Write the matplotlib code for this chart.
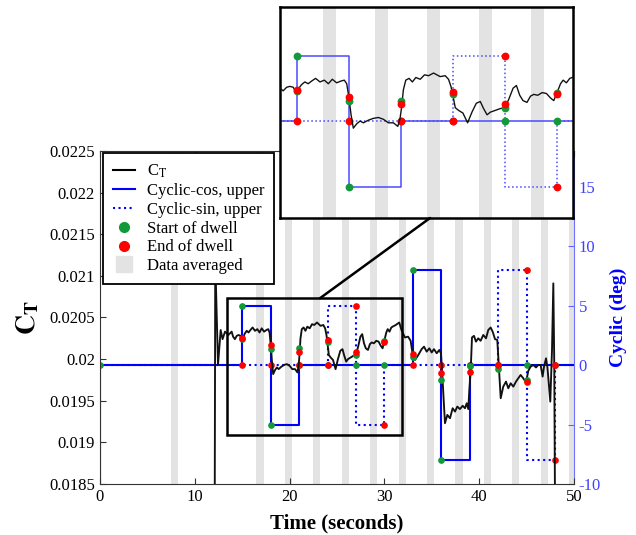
import numpy as np
import matplotlib
matplotlib.use('Agg')
import matplotlib.pyplot as plt
from matplotlib.lines import Line2D
from matplotlib.patches import Rectangle, ConnectionPatch

plt.rcParams['font.family'] = ['Liberation Serif', 'DejaVu Serif']
plt.rcParams['mathtext.fontset'] = 'stix'
plt.rcParams['axes.unicode_minus'] = False

# thrust coefficient record (s, C_T)
ct_time = [12.10, 12.16, 12.45, 12.73, 12.93, 13.19, 13.54, 13.89,
           14.04, 14.23, 14.43, 14.62, 14.81, 14.95, 15.10, 15.29, 15.48, 15.67,
           15.87, 16.10, 16.35, 16.60, 16.83, 17.06, 17.31, 17.56, 17.75, 17.89,
           18.02, 18.14, 18.27, 18.47, 18.66, 18.85, 19.14, 19.42, 19.71, 20.00,
           20.29, 20.58, 20.83, 20.96, 21.06, 21.15, 21.29, 21.48, 21.67, 21.87,
           22.12, 22.37, 22.60, 22.89, 23.27, 23.56, 23.75, 23.89, 24.00, 24.14,
           24.33, 24.58, 24.85, 25.10, 25.35, 25.58, 25.77, 25.97, 26.16, 26.45,
           26.73, 26.97, 27.21, 27.47, 27.66, 27.85, 28.04, 28.27, 28.47, 28.66,
           28.89, 29.14, 29.39, 29.62, 29.81, 30.00, 30.20, 30.35, 30.54, 30.73,
           30.87, 31.20, 31.57, 31.80, 32.17, 32.50, 32.77, 32.98, 33.23, 33.58,
           33.93, 34.18, 34.46, 34.74, 34.99, 35.23, 35.52, 35.79, 35.97, 36.10,
           36.29, 36.39, 36.64, 36.92, 37.20, 37.45, 37.69, 37.97, 38.26, 38.50,
           38.68, 38.85, 38.96, 39.10, 39.24, 39.45, 39.66, 39.90, 40.15, 40.43,
           40.72, 40.96, 41.21, 41.42, 41.67, 41.91, 42.06, 42.27, 42.54, 42.83,
           43.07, 43.32, 43.60, 43.88, 44.13, 44.37, 44.65, 44.94, 45.18, 45.43,
           45.71, 45.99, 46.23, 46.48, 46.69, 46.84, 47.05, 47.20, 47.50, 47.68,
           47.82, 47.92, 48.00]
ct_val = [0.01800, 0.02120, 0.01993, 0.02035, 0.02024, 0.02033, 0.02029, 0.02033,
          0.02027, 0.02024, 0.02028, 0.02029, 0.02028, 0.02023, 0.02026, 0.02031, 0.02034, 0.02032,
          0.02035, 0.02038, 0.02034, 0.02036, 0.02032, 0.02037, 0.02033, 0.02035, 0.02036, 0.02032,
          0.02016, 0.01997, 0.01982, 0.01987, 0.01990, 0.01988, 0.01991, 0.01993, 0.01994, 0.01992,
          0.01988, 0.01988, 0.01984, 0.01993, 0.02007, 0.02025, 0.02036, 0.02038, 0.02034, 0.02039,
          0.02037, 0.02042, 0.02041, 0.02044, 0.02040, 0.02041, 0.02037, 0.02029, 0.02019, 0.02005,
          0.02002, 0.01999, 0.01988, 0.02000, 0.02010, 0.02012, 0.02004, 0.01997, 0.02000, 0.02002,
          0.02004, 0.02005, 0.02014, 0.02027, 0.02030, 0.02019, 0.02013, 0.02011, 0.02018, 0.02020,
          0.02019, 0.02022, 0.02021, 0.02016, 0.02013, 0.02022, 0.02032, 0.02036, 0.02033, 0.02038,
          0.02039, 0.02041, 0.02044, 0.02035, 0.02026, 0.02027, 0.02022, 0.02006, 0.01999, 0.02005,
          0.02012, 0.02015, 0.02009, 0.02013, 0.02008, 0.02012, 0.02007, 0.02011, 0.02007, 0.01983,
          0.01943, 0.01923, 0.01933, 0.01929, 0.01941, 0.01937, 0.01943, 0.01940, 0.01944, 0.01941,
          0.01947, 0.01940, 0.01963, 0.01985, 0.02026, 0.02028, 0.02021, 0.02025, 0.02022, 0.02029,
          0.02025, 0.02035, 0.02038, 0.02033, 0.02024, 0.02023, 0.01993, 0.01953, 0.01967, 0.01973,
          0.01965, 0.01971, 0.01967, 0.01973, 0.01977, 0.01981, 0.01977, 0.01972, 0.01986, 0.01991,
          0.01993, 0.01990, 0.01993, 0.01993, 0.01979, 0.01991, 0.02001, 0.01990, 0.01949, 0.02011,
          0.02091, 0.01993, 0.01820]

# upper cyclic commands, step changes (s, deg)
cos_time = [0, 0, 15, 18, 21, 33, 36, 39, 50]
cos_deg = [-12, 0, 5, -5, 0, 8, -8, 0, 0]
sin_time = [0, 24, 27, 30, 42, 45, 48, 50]
sin_deg = [0, 5, -5, 0, 8, -8, 0, 0]

# dwell markers
start_time = [0, 15, 18, 21, 24, 27, 30, 33, 36, 39, 42, 45, 48]
start_cos = [0, 5, -5, 0, 0, 0, 0, 8, -8, 0, 0, 0, 0]
ct_start_time = [15, 18, 21, 24, 27, 30, 33, 36, 39, 42, 45]
ct_start = [0.02024, 0.02012, 0.02013, 0.02020, 0.02005, 0.02022,
            0.02003, 0.01975, 0.01992, 0.01988, 0.01975]
end_time = [15, 18, 21, 24, 27, 30, 33, 36, 39, 42, 45, 48]
end_sin = [0, 0, 0, 0, 5, -5, 0, 0, 0, 0, 8, -8]
ct_end = [0.02025, 0.02017, 0.02009, 0.02023, 0.02009, 0.02020,
          0.02006, 0.01983, 0.01985, 0.01993, 0.01972, 0.01993]

# averaging windows
avg_start = [7.5, 16.5, 19.5, 22.5, 25.5, 28.5, 31.5, 34.5, 37.5, 40.5, 43.5, 46.5, 49.5]
avg_end = [8.25, 17.25, 20.25, 23.25, 26.25, 29.25, 32.25, 35.25, 38.25, 41.25, 44.25, 47.25, 50.25]

GREEN = '#12993a'
BAND = '#e3e3e3'


def draw_all(ax_ct, ax_cyc, lw, ms, cyc_color):
    for s, e in zip(avg_start, avg_end):
        ax_cyc.axvspan(s, e, color=BAND, lw=0, zorder=0)
    ax_cyc.step(cos_time, cos_deg, where='post', color=cyc_color, lw=lw)
    ax_cyc.step(sin_time, sin_deg, where='post', color=cyc_color, lw=lw, ls=':')
    ax_cyc.plot(start_time, start_cos, 'o', color=GREEN, ms=ms, zorder=4)
    ax_cyc.plot(end_time, end_sin, 'o', color='red', ms=ms, zorder=5)
    ax_ct.plot(ct_time, ct_val, color='#111111', lw=lw * 0.9, zorder=3)
    ax_ct.plot(ct_start_time, ct_start, 'o', color=GREEN, ms=ms, zorder=4)
    ax_ct.plot(end_time, ct_end, 'o', color='red', ms=ms, zorder=5)


fig = plt.figure(figsize=(6.36, 5.35), dpi=100)
ax = fig.add_axes([0.1572, 0.0953, 0.7453, 0.6225])
ax2 = ax.twinx()
ax.set_zorder(ax2.get_zorder() + 1)
ax.patch.set_visible(False)

draw_all(ax, ax2, 1.5, 3.8, 'blue')

ax.set_xlim(0, 50)
ax.set_ylim(0.0185, 0.0225)
ax2.set_ylim(-10, 18)
ax.set_xticks([0, 10, 20, 30, 40, 50])
ct_ticks = [0.0185, 0.019, 0.0195, 0.02, 0.0205, 0.021, 0.0215, 0.022, 0.0225]
ax.set_yticks(ct_ticks)
ax.set_yticklabels(['0.0185', '0.019', '0.0195', '0.02', '0.0205',
                    '0.021', '0.0215', '0.022', '0.0225'])
ax2.set_yticks([-10, -5, 0, 5, 10, 15])

ax.tick_params(direction='in', top=True, right=False, length=4,
               labelsize=12, color='#333333')
ax2.tick_params(axis='y', direction='in', length=4, labelsize=12,
                color='#6666ff', labelcolor='#4040ff')
for side in ['left', 'top', 'bottom']:
    ax.spines[side].set_color('#333333')
    ax2.spines[side].set_visible(False)
ax.spines['right'].set_visible(False)
ax2.spines['right'].set_color('#7070ff')

ax.set_xlabel('Time (seconds)', fontsize=15, fontweight='bold', labelpad=6)
ax.set_ylabel(r'$\mathbf{C_T}$', fontsize=20, labelpad=6)
ax2.set_ylabel('Cyclic (deg)', color='blue', fontsize=14, fontweight='bold', labelpad=6)

# zoom box around the first four dwells
ax.add_patch(Rectangle((13.36, 0.019089), 31.82 - 13.36, 0.020731 - 0.019089,
                       fill=False, ec='black', lw=1.8, zorder=10))

handles = [
    Line2D([], [], color='black', lw=1.5, label=r'C$_\mathrm{T}$'),
    Line2D([], [], color='blue', lw=1.5, label='Cyclic-cos, upper'),
    Line2D([], [], color='blue', lw=1.5, ls=':', label='Cyclic-sin, upper'),
    Line2D([], [], color=GREEN, marker='o', ls='none', ms=7, label='Start of dwell'),
    Line2D([], [], color='red', marker='o', ls='none', ms=7, label='End of dwell'),
    Line2D([], [], color=BAND, marker='s', ls='none', ms=11, label='Data averaged'),
]
leg = ax.legend(handles=handles, loc='upper left', bbox_to_anchor=(0.006, 0.995),
                borderaxespad=0, fontsize=12, fancybox=False, framealpha=1,
                edgecolor='black', labelspacing=0.17, handlelength=1.35,
                handletextpad=0.7, borderpad=0.6)
leg.get_frame().set_linewidth(1.3)
leg.set_zorder(20)

# inset
axi = fig.add_axes([0.4403, 0.5925, 0.4607, 0.3944])
axi2 = axi.twinx()
axi2.set_zorder(5)
axi.set_zorder(6)
axi.patch.set_visible(False)
axi2.patch.set_visible(True)
axi2.set_facecolor('white')

draw_all(axi, axi2, 1.1, 4.6, '#4a4aff')
axi.set_xlim(14.05, 30.92)
axi.set_ylim(0.018809, 0.021183)
axi2.set_ylim(-7.4, 8.7)
for a in (axi, axi2):
    a.set_xticks([])
    a.set_yticks([])
for side in axi.spines:
    axi.spines[side].set_linewidth(1.8)
    axi.spines[side].set_color('black')
    axi2.spines[side].set_visible(False)

con = ConnectionPatch(xyA=(23.2, 0.020731), coordsA=ax.transData,
                      xyB=(0.512, 0.0), coordsB=axi.transAxes,
                      color='black', lw=1.8, zorder=7)
fig.add_artist(con)

fig.savefig('out.png', dpi=100)
